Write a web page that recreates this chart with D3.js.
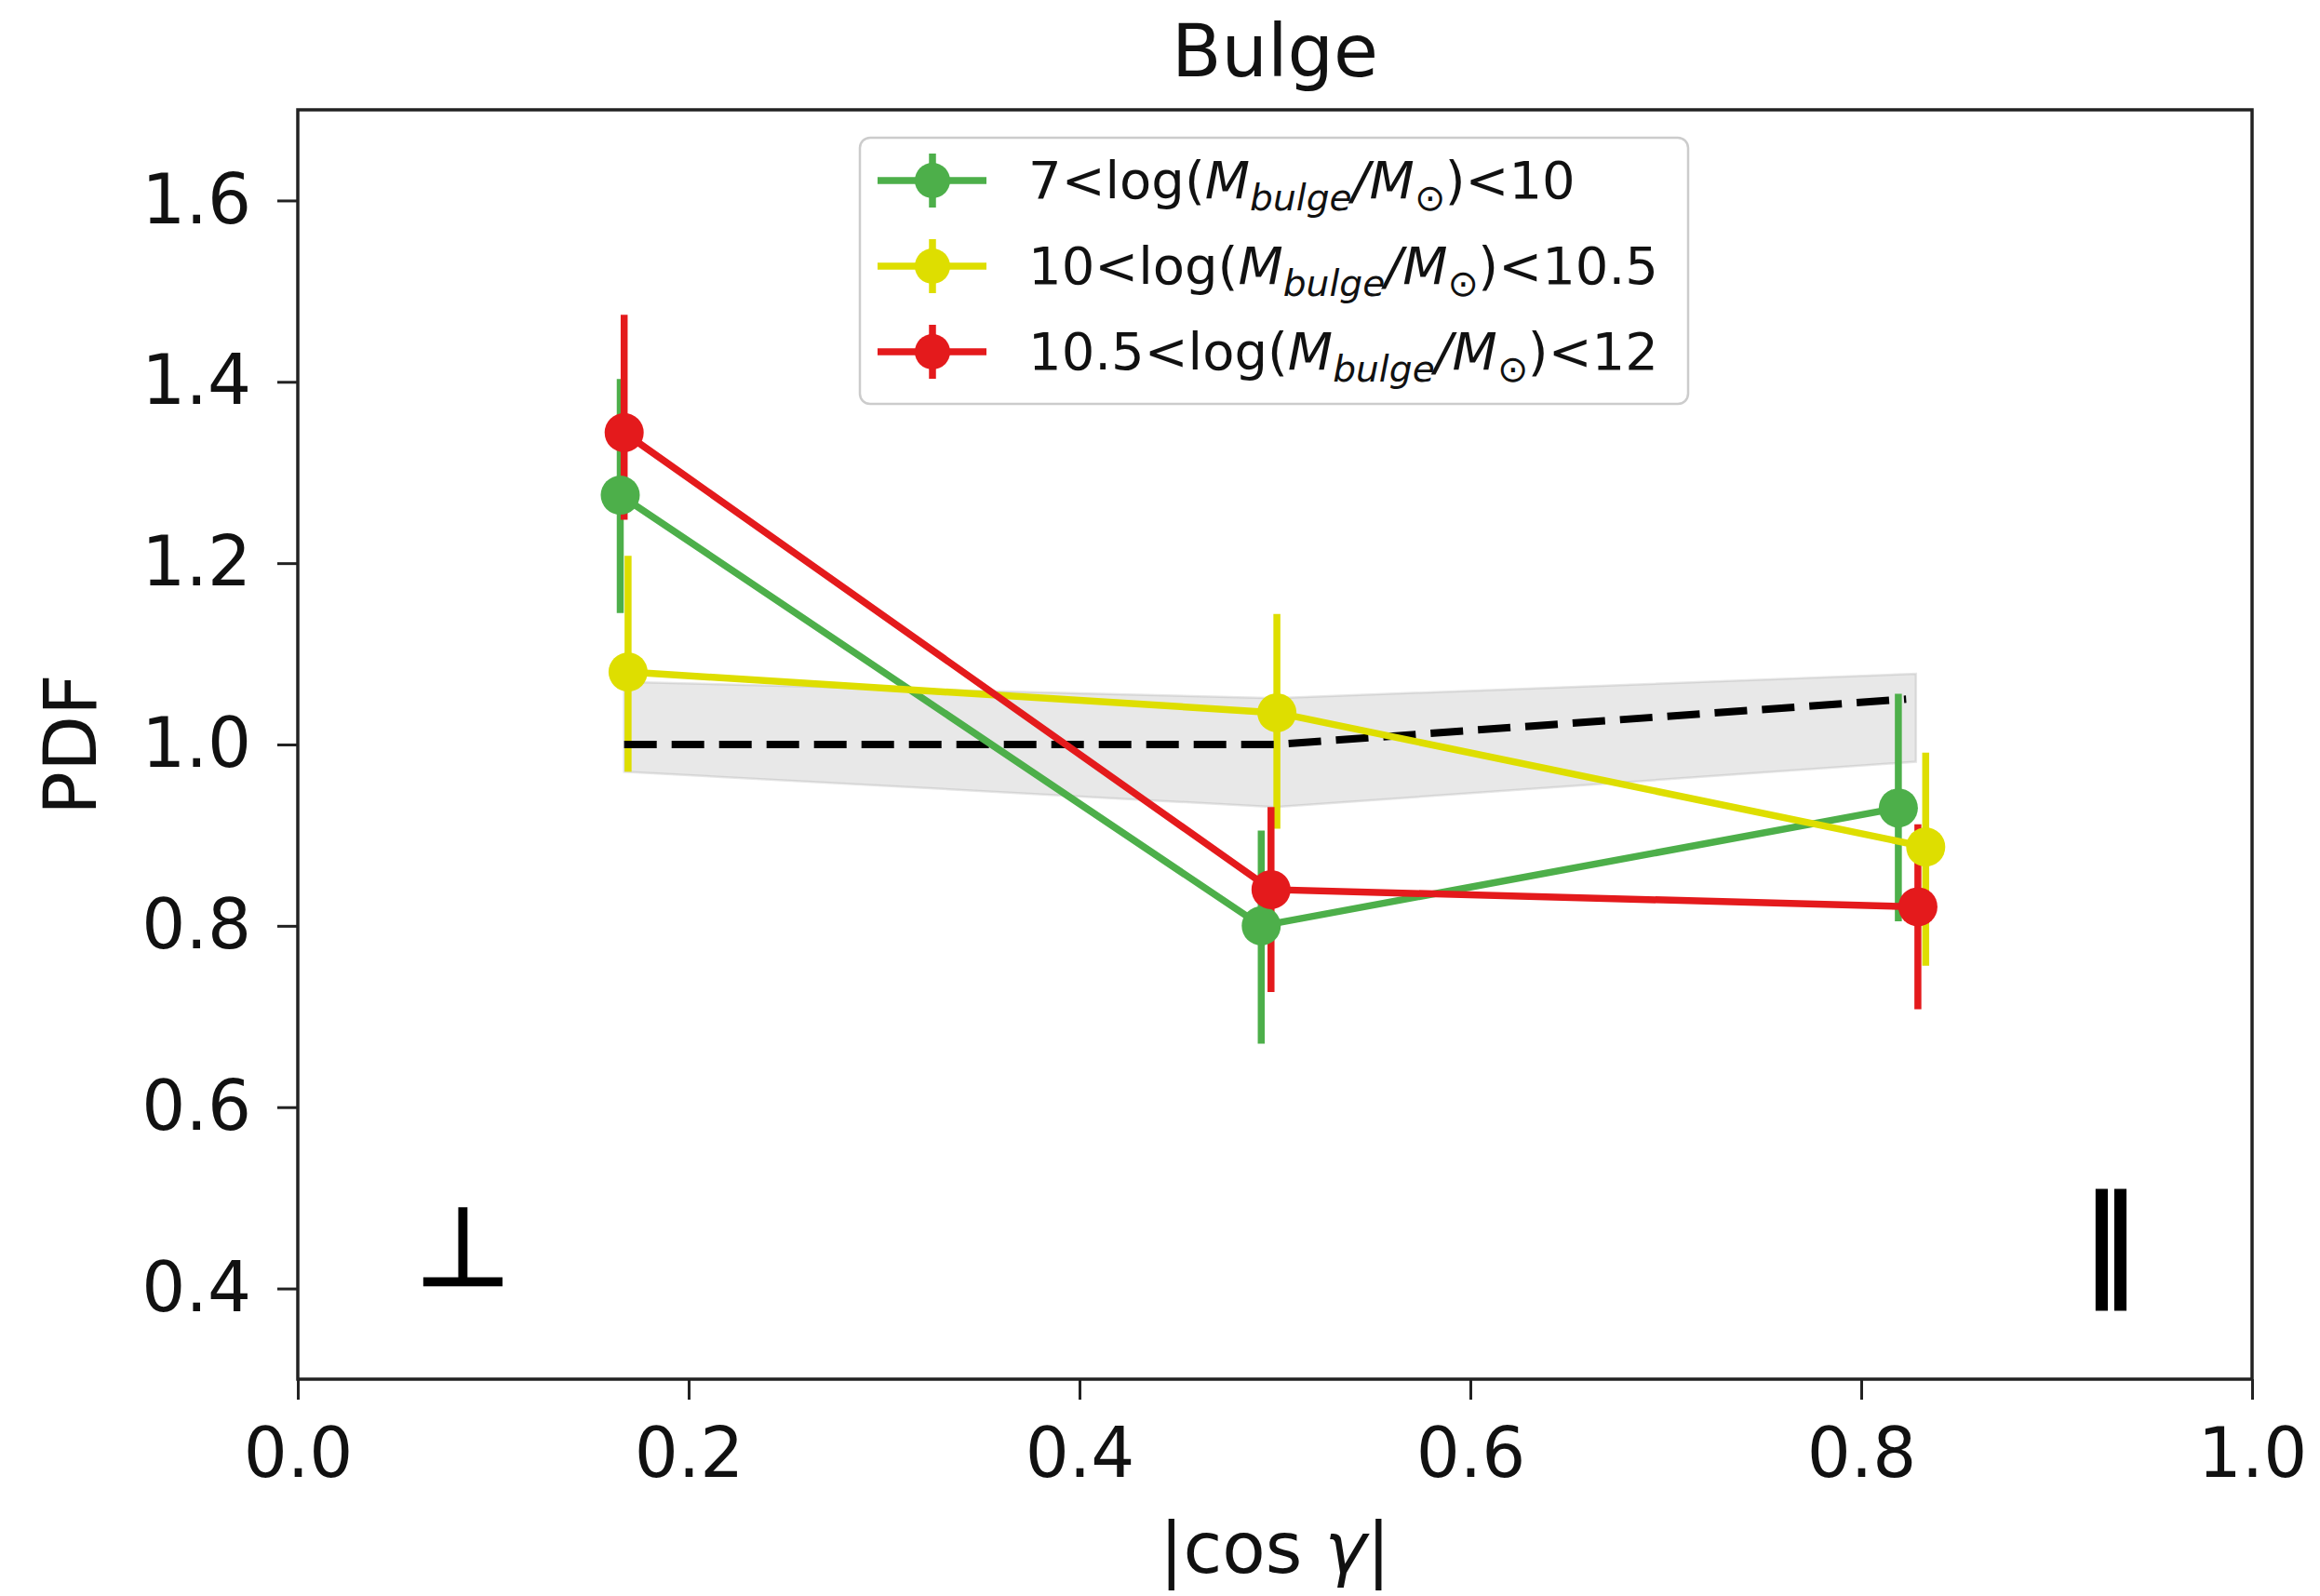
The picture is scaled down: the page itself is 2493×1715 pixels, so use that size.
<!DOCTYPE html>
<html>
<head>
<meta charset="utf-8">
<script src="https://cdn.jsdelivr.net/npm/d3@7"></script>
<style>
  html, body { margin: 0; padding: 0; background: #fff; }
  svg { display: block; font-family: "DejaVu Sans", sans-serif; }
</style>
</head>
<body>
<div id="chart"></div>
<script>
const width = 2493;
const height = 1715;
const margin = { top: 118, right: 73, bottom: 233, left: 320 };

// axis ticks
const xTicks = [0.0, 0.2, 0.4, 0.6, 0.8, 1.0];
const yTicks = [0.4, 0.6, 0.8, 1.0, 1.2, 1.4, 1.6];

// random (isotropic) expectation: dashed mean and grey band
const randX = [0.167, 0.5, 0.823];
const randMean = [1.0, 1.0, 1.05];
const bandX = [0.167, 0.5, 0.828];
const bandLow = [0.97, 0.931, 0.981];
const bandHigh = [1.069, 1.051, 1.078];

// mass bins
const greenX = [0.165, 0.493, 0.819];
const greenY = [1.275, 0.80, 0.93];
const greenErrLow = [0.13, 0.13, 0.125];
const greenErrHigh = [0.128, 0.105, 0.126];

const yellowX = [0.169, 0.501, 0.833];
const yellowY = [1.08, 1.035, 0.887];
const yellowErrLow = [0.11, 0.128, 0.131];
const yellowErrHigh = [0.128, 0.109, 0.104];

const redX = [0.167, 0.498, 0.829];
const redY = [1.344, 0.84, 0.821];
const redErrLow = [0.096, 0.113, 0.113];
const redErrHigh = [0.13, 0.091, 0.091];

const seriesNames = [
  { pre: '7<log(', post: ')<10' },
  { pre: '10<log(', post: ')<10.5' },
  { pre: '10.5<log(', post: ')<12' }
];
const seriesColors = ['#4daf4a', '#dede00', '#e41a1c'];

function buildSeries(xs, ys, lo, hi) {
  return xs.map((x, i) => ({ x, y: ys[i], lo: ys[i] - lo[i], hi: ys[i] + hi[i] }));
}

const series = [
  buildSeries(greenX, greenY, greenErrLow, greenErrHigh),
  buildSeries(yellowX, yellowY, yellowErrLow, yellowErrHigh),
  buildSeries(redX, redY, redErrLow, redErrHigh)
];

const svg = d3.select('#chart').append('svg')
  .attr('width', width)
  .attr('height', height);

svg.append('rect').attr('width', width).attr('height', height).attr('fill', '#fff');

const x = d3.scaleLinear().domain([0, 1]).range([margin.left, width - margin.right]);
const y = d3.scaleLinear().domain([0.3, 1.7]).range([height - margin.bottom, margin.top]);

const tickFont = 74;
const lineW = 7.5;

// band
const band = bandX.map((bx, i) => ({ x: bx, lo: bandLow[i], hi: bandHigh[i] }));
svg.append('path')
  .datum(band)
  .attr('d', d3.area().x(d => x(d.x)).y0(d => y(d.lo)).y1(d => y(d.hi)))
  .attr('fill', '#808080')
  .attr('fill-opacity', 0.18)
  .attr('stroke', '#808080')
  .attr('stroke-opacity', 0.2)
  .attr('stroke-width', 2.5);

// error bars first (collections are drawn under lines)
series.forEach((data, i) => {
  svg.append('g')
    .selectAll('line')
    .data(data)
    .join('line')
    .attr('x1', d => x(d.x))
    .attr('x2', d => x(d.x))
    .attr('y1', d => y(d.lo))
    .attr('y2', d => y(d.hi))
    .attr('stroke', seriesColors[i])
    .attr('stroke-width', lineW);
});

// dashed mean
const rand = randX.map((rx, i) => ({ x: rx, y: randMean[i] }));
svg.append('path')
  .datum(rand)
  .attr('d', d3.line().x(d => x(d.x)).y(d => y(d.y)))
  .attr('fill', 'none')
  .attr('stroke', '#000')
  .attr('stroke-width', 8)
  .attr('stroke-dasharray', '35,16');

// series lines + markers
series.forEach((data, i) => {
  svg.append('path')
    .datum(data)
    .attr('d', d3.line().x(d => x(d.x)).y(d => y(d.y)))
    .attr('fill', 'none')
    .attr('stroke', seriesColors[i])
    .attr('stroke-width', lineW);

  svg.append('g')
    .selectAll('circle')
    .data(data)
    .join('circle')
    .attr('cx', d => x(d.x))
    .attr('cy', d => y(d.y))
    .attr('r', 21)
    .attr('fill', seriesColors[i]);
});

// axes
const xAxis = svg.append('g')
  .attr('transform', `translate(0,${height - margin.bottom})`)
  .call(d3.axisBottom(x).tickValues(xTicks).tickFormat(d3.format('.1f')).tickSize(22).tickPadding(30));

const yAxis = svg.append('g')
  .attr('transform', `translate(${margin.left},0)`)
  .call(d3.axisLeft(y).tickValues(yTicks).tickFormat(d3.format('.1f')).tickSize(22).tickPadding(28));

[xAxis, yAxis].forEach(axis => {
  axis.select('.domain').remove();
  axis.selectAll('.tick line').attr('stroke', '#222').attr('stroke-width', 3);
  axis.selectAll('.tick text')
    .attr('fill', '#111')
    .attr('font-size', tickFont)
    .attr('font-family', '"DejaVu Sans", sans-serif');
});

// frame
svg.append('rect')
  .attr('x', margin.left)
  .attr('y', margin.top)
  .attr('width', width - margin.left - margin.right)
  .attr('height', height - margin.top - margin.bottom)
  .attr('fill', 'none')
  .attr('stroke', '#222')
  .attr('stroke-width', 3.5);

// orientation symbols
svg.append('text')
  .attr('x', x(0.0845))
  .attr('y', y(0.4) - 4)
  .attr('text-anchor', 'middle')
  .attr('font-size', 118)
  .attr('fill', '#000')
  .attr('stroke', '#000')
  .attr('stroke-width', 2.5)
  .text('⊥');

svg.append('text')
  .attr('x', x(0.928))
  .attr('y', y(0.4) - 6)
  .attr('text-anchor', 'middle')
  .attr('font-size', 130)
  .attr('fill', '#000')
  .attr('stroke', '#000')
  .attr('stroke-width', 3)
  .text('∥');

// title and labels
svg.append('text')
  .attr('x', (margin.left + width - margin.right) / 2)
  .attr('y', 82)
  .attr('text-anchor', 'middle')
  .attr('font-size', 78)
  .attr('fill', '#111')
  .text('Bulge');

const xLabel = svg.append('text')
  .attr('x', (margin.left + width - margin.right) / 2)
  .attr('y', 1690)
  .attr('text-anchor', 'middle')
  .attr('font-size', 76)
  .attr('fill', '#111');
xLabel.append('tspan').text('|cos ');
xLabel.append('tspan').attr('font-style', 'italic').text('γ');
xLabel.append('tspan').text('|');

svg.append('text')
  .attr('transform', `translate(103,${(margin.top + height - margin.bottom) / 2}) rotate(-90)`)
  .attr('text-anchor', 'middle')
  .attr('font-size', 78)
  .attr('fill', '#111')
  .text('PDF');

// legend
const legend = svg.append('g');
legend.append('rect')
  .attr('x', 924)
  .attr('y', 148)
  .attr('width', 890)
  .attr('height', 286)
  .attr('rx', 11)
  .attr('fill', '#fff')
  .attr('fill-opacity', 0.8)
  .attr('stroke', '#cccccc')
  .attr('stroke-width', 2.5);

const legendFont = 56;
seriesNames.forEach((name, i) => {
  const cy = 194 + i * 92;
  const row = legend.append('g');
  row.append('line')
    .attr('x1', 943).attr('x2', 1060)
    .attr('y1', cy).attr('y2', cy)
    .attr('stroke', seriesColors[i]).attr('stroke-width', lineW);
  row.append('line')
    .attr('x1', 1002).attr('x2', 1002)
    .attr('y1', cy - 29).attr('y2', cy + 29)
    .attr('stroke', seriesColors[i]).attr('stroke-width', lineW);
  row.append('circle')
    .attr('cx', 1002).attr('cy', cy).attr('r', 19)
    .attr('fill', seriesColors[i]);

  const t = row.append('text')
    .attr('x', 1105)
    .attr('y', cy + 19)
    .attr('font-size', legendFont)
    .attr('fill', '#111');
  t.append('tspan').text(name.pre);
  t.append('tspan').attr('font-style', 'italic').text('M');
  t.append('tspan').attr('font-style', 'italic').attr('font-size', legendFont * 0.7).attr('dy', 13).text('bulge');
  t.append('tspan').attr('font-style', 'italic').attr('dy', -13).text('/M');
  t.append('tspan').attr('font-size', legendFont * 0.7).attr('dy', 13).text('⊙');
  t.append('tspan').attr('dy', -13).text(name.post);
});
</script>
</body>
</html>
